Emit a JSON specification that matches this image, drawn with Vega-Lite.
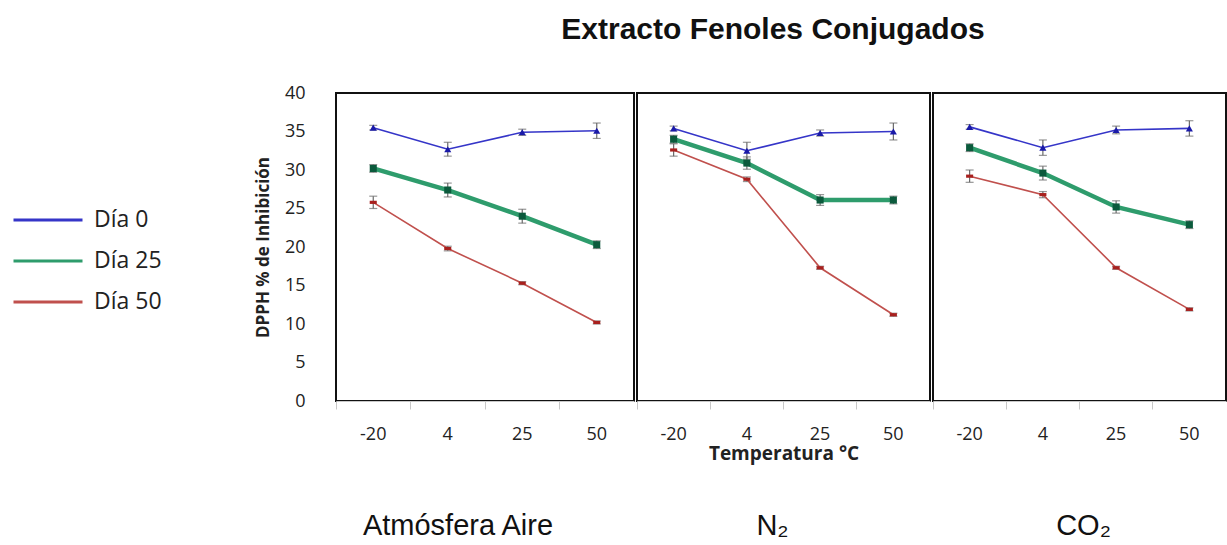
{
  "$schema": "https://vega.github.io/schema/vega-lite/v6.json",
  "autosize": {"type": "pad"},
  "padding": {"left": 35, "top": 15, "right": 0, "bottom": 0},
  "background": "white",
  "title": {"text": "Extracto Fenoles  Conjugados", "font": "Liberation Sans", "fontSize": 30, "fontWeight": "bold", "color": "#111111", "anchor": "middle", "offset": 38, "dx": 142},
  "datasets": {
    "d": [
      {"atm": "Aire", "temp": "-20", "dia": "Día 0", "v": 35.5, "lo": 35.2, "hi": 35.8},
      {"atm": "Aire", "temp": "4", "dia": "Día 0", "v": 32.7, "lo": 31.8, "hi": 33.6},
      {"atm": "Aire", "temp": "25", "dia": "Día 0", "v": 34.9, "lo": 34.5, "hi": 35.3},
      {"atm": "Aire", "temp": "50", "dia": "Día 0", "v": 35.1, "lo": 34.1, "hi": 36.1},
      {"atm": "Aire", "temp": "-20", "dia": "Día 25", "v": 30.2, "lo": 29.7, "hi": 30.7},
      {"atm": "Aire", "temp": "4", "dia": "Día 25", "v": 27.4, "lo": 26.5, "hi": 28.3},
      {"atm": "Aire", "temp": "25", "dia": "Día 25", "v": 24.0, "lo": 23.1, "hi": 24.9},
      {"atm": "Aire", "temp": "50", "dia": "Día 25", "v": 20.3, "lo": 19.8, "hi": 20.8},
      {"atm": "Aire", "temp": "-20", "dia": "Día 50", "v": 25.8, "lo": 25.0, "hi": 26.6},
      {"atm": "Aire", "temp": "4", "dia": "Día 50", "v": 19.8, "lo": 19.5, "hi": 20.1},
      {"atm": "Aire", "temp": "25", "dia": "Día 50", "v": 15.3, "lo": 15.1, "hi": 15.5},
      {"atm": "Aire", "temp": "50", "dia": "Día 50", "v": 10.2, "lo": 10.0, "hi": 10.4},
      {"atm": "N2", "temp": "-20", "dia": "Día 0", "v": 35.4, "lo": 35.1, "hi": 35.7},
      {"atm": "N2", "temp": "4", "dia": "Día 0", "v": 32.5, "lo": 31.4, "hi": 33.6},
      {"atm": "N2", "temp": "25", "dia": "Día 0", "v": 34.8, "lo": 34.4, "hi": 35.2},
      {"atm": "N2", "temp": "50", "dia": "Día 0", "v": 35.0, "lo": 33.9, "hi": 36.1},
      {"atm": "N2", "temp": "-20", "dia": "Día 25", "v": 34.0, "lo": 33.5, "hi": 34.5},
      {"atm": "N2", "temp": "4", "dia": "Día 25", "v": 30.9, "lo": 30.1, "hi": 31.7},
      {"atm": "N2", "temp": "25", "dia": "Día 25", "v": 26.1, "lo": 25.4, "hi": 26.8},
      {"atm": "N2", "temp": "50", "dia": "Día 25", "v": 26.1, "lo": 25.6, "hi": 26.6},
      {"atm": "N2", "temp": "-20", "dia": "Día 50", "v": 32.6, "lo": 31.8, "hi": 33.4},
      {"atm": "N2", "temp": "4", "dia": "Día 50", "v": 28.8, "lo": 28.5, "hi": 29.1},
      {"atm": "N2", "temp": "25", "dia": "Día 50", "v": 17.3, "lo": 17.1, "hi": 17.5},
      {"atm": "N2", "temp": "50", "dia": "Día 50", "v": 11.2, "lo": 11.0, "hi": 11.4},
      {"atm": "CO2", "temp": "-20", "dia": "Día 0", "v": 35.6, "lo": 35.3, "hi": 35.9},
      {"atm": "CO2", "temp": "4", "dia": "Día 0", "v": 32.9, "lo": 31.9, "hi": 33.9},
      {"atm": "CO2", "temp": "25", "dia": "Día 0", "v": 35.2, "lo": 34.7, "hi": 35.7},
      {"atm": "CO2", "temp": "50", "dia": "Día 0", "v": 35.4, "lo": 34.4, "hi": 36.4},
      {"atm": "CO2", "temp": "-20", "dia": "Día 25", "v": 32.9, "lo": 32.4, "hi": 33.4},
      {"atm": "CO2", "temp": "4", "dia": "Día 25", "v": 29.6, "lo": 28.7, "hi": 30.5},
      {"atm": "CO2", "temp": "25", "dia": "Día 25", "v": 25.2, "lo": 24.4, "hi": 26.0},
      {"atm": "CO2", "temp": "50", "dia": "Día 25", "v": 22.9, "lo": 22.4, "hi": 23.4},
      {"atm": "CO2", "temp": "-20", "dia": "Día 50", "v": 29.2, "lo": 28.4, "hi": 30.0},
      {"atm": "CO2", "temp": "4", "dia": "Día 50", "v": 26.8, "lo": 26.4, "hi": 27.2},
      {"atm": "CO2", "temp": "25", "dia": "Día 50", "v": 17.3, "lo": 17.1, "hi": 17.5},
      {"atm": "CO2", "temp": "50", "dia": "Día 50", "v": 11.9, "lo": 11.7, "hi": 12.1}
    ]
  },
  "data": {"name": "d"},
  "spacing": 0,
  "resolve": {"scale": {"color": "shared"}, "legend": {"color": "shared"}},
  "hconcat": [
    {
      "width": 298,
      "height": 308,
      "title": {"text": "Atmósfera Aire", "orient": "bottom", "font": "Liberation Sans", "fontSize": 29, "fontWeight": "normal", "color": "#111111", "offset": 69, "dx": -27, "anchor": "middle"},
      "transform": [{"filter": "datum.atm == 'Aire'"}],
      "encoding": {
        "x": {"field": "temp", "type": "ordinal", "sort": ["-20", "4", "25", "50"], "scale": {"type": "band", "paddingInner": 0, "paddingOuter": 0},
          "axis": {"title": null, "bandPosition": 0}}
      },
      "layer": [
        {"mark": {"type": "rule", "color": "#6a6a6a", "strokeWidth": 1.2},
         "encoding": {"y": {"field": "lo", "type": "quantitative", "scale": {"domain": [0, 40], "nice": false}, "axis": {"title": "DPPH  % de Inhibición"}}, "y2": {"field": "hi"}}},
        {"mark": {"type": "tick", "color": "#6a6a6a", "size": 8, "thickness": 1.2},
         "encoding": {"y": {"field": "lo", "type": "quantitative", "scale": {"domain": [0, 40], "nice": false}, "axis": {"title": "DPPH  % de Inhibición"}}}},
        {"mark": {"type": "tick", "color": "#6a6a6a", "size": 8, "thickness": 1.2},
         "encoding": {"y": {"field": "hi", "type": "quantitative", "scale": {"domain": [0, 40], "nice": false}, "axis": {"title": "DPPH  % de Inhibición"}}}},
        {"mark": {"type": "line", "strokeWidth": 1.6},
         "encoding": {
           "y": {"field": "v", "type": "quantitative", "scale": {"domain": [0, 40], "nice": false}, "axis": {"title": "DPPH  % de Inhibición"}},
           "color": {"field": "dia", "type": "nominal", "scale": {"domain": ["Día 0", "Día 25", "Día 50"], "range": ["#3535C8", "#2E9C6C", "#C0504D"]},
             "legend": {"orient": "none", "legendX": -301, "legendY": 114, "title": null, "symbolType": "M-3,0H3", "symbolSize": 529, "symbolStrokeWidth": 3, "symbolFillColor": "transparent", "labelFontSize": 23, "labelFont": "Open Sans", "labelOffset": 33, "rowPadding": 16, "labelColor": "#222222", "padding": 0}}
         }},
        {"transform": [{"filter": "datum.dia == 'Día 25'"}],
         "mark": {"type": "line", "strokeWidth": 4.5, "color": "#2E9C6C"},
         "encoding": {"y": {"field": "v", "type": "quantitative", "scale": {"domain": [0, 40], "nice": false}, "axis": {"title": "DPPH  % de Inhibición"}}}},
        {"transform": [{"filter": "datum.dia == 'Día 0'"}],
         "mark": {"type": "point", "filled": true, "size": 50, "opacity": 1, "shape": "triangle-up", "color": "#1A1AA8"},
         "encoding": {"y": {"field": "v", "type": "quantitative", "scale": {"domain": [0, 40], "nice": false}, "axis": {"title": "DPPH  % de Inhibición"}}}},
        {"transform": [{"filter": "datum.dia == 'Día 25'"}],
         "mark": {"type": "point", "filled": true, "size": 50, "opacity": 1, "shape": "square", "color": "#0B5A3C"},
         "encoding": {"y": {"field": "v", "type": "quantitative", "scale": {"domain": [0, 40], "nice": false}, "axis": {"title": "DPPH  % de Inhibición"}}}},
        {"transform": [{"filter": "datum.dia == 'Día 50'"}],
         "mark": {"type": "point", "filled": true, "size": 50, "opacity": 1, "shape": "M-1,-0.45L1,-0.45L1,0.45L-1,0.45Z", "color": "#A8201E"},
         "encoding": {"y": {"field": "v", "type": "quantitative", "scale": {"domain": [0, 40], "nice": false}, "axis": {"title": "DPPH  % de Inhibición"}}}}
      ]
    },
    {
      "width": 293,
      "height": 308,
      "title": {"text": "N₂", "orient": "bottom", "font": "Liberation Sans", "fontSize": 29, "fontWeight": "normal", "color": "#111111", "offset": 49, "dx": -11, "anchor": "middle"},
      "transform": [{"filter": "datum.atm == 'N2'"}],
      "encoding": {
        "x": {"field": "temp", "type": "ordinal", "sort": ["-20", "4", "25", "50"], "scale": {"type": "band", "paddingInner": 0, "paddingOuter": 0},
          "axis": {"title": "Temperatura  °C", "bandPosition": 0}}
      },
      "layer": [
        {"mark": {"type": "rule", "color": "#6a6a6a", "strokeWidth": 1.2},
         "encoding": {"y": {"field": "lo", "type": "quantitative", "scale": {"domain": [0, 40], "nice": false}, "axis": null}, "y2": {"field": "hi"}}},
        {"mark": {"type": "tick", "color": "#6a6a6a", "size": 8, "thickness": 1.2},
         "encoding": {"y": {"field": "lo", "type": "quantitative", "scale": {"domain": [0, 40], "nice": false}, "axis": null}}},
        {"mark": {"type": "tick", "color": "#6a6a6a", "size": 8, "thickness": 1.2},
         "encoding": {"y": {"field": "hi", "type": "quantitative", "scale": {"domain": [0, 40], "nice": false}, "axis": null}}},
        {"mark": {"type": "line", "strokeWidth": 1.6},
         "encoding": {
           "y": {"field": "v", "type": "quantitative", "scale": {"domain": [0, 40], "nice": false}, "axis": null},
           "color": {"field": "dia", "type": "nominal", "scale": {"domain": ["Día 0", "Día 25", "Día 50"], "range": ["#3535C8", "#2E9C6C", "#C0504D"]},
             "legend": {"orient": "none", "legendX": -301, "legendY": 114, "title": null, "symbolType": "M-3,0H3", "symbolSize": 529, "symbolStrokeWidth": 3, "symbolFillColor": "transparent", "labelFontSize": 23, "labelFont": "Open Sans", "labelOffset": 33, "rowPadding": 16, "labelColor": "#222222", "padding": 0}}
         }},
        {"transform": [{"filter": "datum.dia == 'Día 25'"}],
         "mark": {"type": "line", "strokeWidth": 4.5, "color": "#2E9C6C"},
         "encoding": {"y": {"field": "v", "type": "quantitative", "scale": {"domain": [0, 40], "nice": false}, "axis": null}}},
        {"transform": [{"filter": "datum.dia == 'Día 0'"}],
         "mark": {"type": "point", "filled": true, "size": 50, "opacity": 1, "shape": "triangle-up", "color": "#1A1AA8"},
         "encoding": {"y": {"field": "v", "type": "quantitative", "scale": {"domain": [0, 40], "nice": false}, "axis": null}}},
        {"transform": [{"filter": "datum.dia == 'Día 25'"}],
         "mark": {"type": "point", "filled": true, "size": 50, "opacity": 1, "shape": "square", "color": "#0B5A3C"},
         "encoding": {"y": {"field": "v", "type": "quantitative", "scale": {"domain": [0, 40], "nice": false}, "axis": null}}},
        {"transform": [{"filter": "datum.dia == 'Día 50'"}],
         "mark": {"type": "point", "filled": true, "size": 50, "opacity": 1, "shape": "M-1,-0.45L1,-0.45L1,0.45L-1,0.45Z", "color": "#A8201E"},
         "encoding": {"y": {"field": "v", "type": "quantitative", "scale": {"domain": [0, 40], "nice": false}, "axis": null}}}
      ]
    },
    {
      "width": 293,
      "height": 308,
      "title": {"text": "CO₂", "orient": "bottom", "font": "Liberation Sans", "fontSize": 29, "fontWeight": "normal", "color": "#111111", "offset": 69, "dx": 4, "anchor": "middle"},
      "transform": [{"filter": "datum.atm == 'CO2'"}],
      "encoding": {
        "x": {"field": "temp", "type": "ordinal", "sort": ["-20", "4", "25", "50"], "scale": {"type": "band", "paddingInner": 0, "paddingOuter": 0},
          "axis": {"title": null, "bandPosition": 0}}
      },
      "layer": [
        {"mark": {"type": "rule", "color": "#6a6a6a", "strokeWidth": 1.2},
         "encoding": {"y": {"field": "lo", "type": "quantitative", "scale": {"domain": [0, 40], "nice": false}, "axis": null}, "y2": {"field": "hi"}}},
        {"mark": {"type": "tick", "color": "#6a6a6a", "size": 8, "thickness": 1.2},
         "encoding": {"y": {"field": "lo", "type": "quantitative", "scale": {"domain": [0, 40], "nice": false}, "axis": null}}},
        {"mark": {"type": "tick", "color": "#6a6a6a", "size": 8, "thickness": 1.2},
         "encoding": {"y": {"field": "hi", "type": "quantitative", "scale": {"domain": [0, 40], "nice": false}, "axis": null}}},
        {"mark": {"type": "line", "strokeWidth": 1.6},
         "encoding": {
           "y": {"field": "v", "type": "quantitative", "scale": {"domain": [0, 40], "nice": false}, "axis": null},
           "color": {"field": "dia", "type": "nominal", "scale": {"domain": ["Día 0", "Día 25", "Día 50"], "range": ["#3535C8", "#2E9C6C", "#C0504D"]},
             "legend": {"orient": "none", "legendX": -301, "legendY": 114, "title": null, "symbolType": "M-3,0H3", "symbolSize": 529, "symbolStrokeWidth": 3, "symbolFillColor": "transparent", "labelFontSize": 23, "labelFont": "Open Sans", "labelOffset": 33, "rowPadding": 16, "labelColor": "#222222", "padding": 0}}
         }},
        {"transform": [{"filter": "datum.dia == 'Día 25'"}],
         "mark": {"type": "line", "strokeWidth": 4.5, "color": "#2E9C6C"},
         "encoding": {"y": {"field": "v", "type": "quantitative", "scale": {"domain": [0, 40], "nice": false}, "axis": null}}},
        {"transform": [{"filter": "datum.dia == 'Día 0'"}],
         "mark": {"type": "point", "filled": true, "size": 50, "opacity": 1, "shape": "triangle-up", "color": "#1A1AA8"},
         "encoding": {"y": {"field": "v", "type": "quantitative", "scale": {"domain": [0, 40], "nice": false}, "axis": null}}},
        {"transform": [{"filter": "datum.dia == 'Día 25'"}],
         "mark": {"type": "point", "filled": true, "size": 50, "opacity": 1, "shape": "square", "color": "#0B5A3C"},
         "encoding": {"y": {"field": "v", "type": "quantitative", "scale": {"domain": [0, 40], "nice": false}, "axis": null}}},
        {"transform": [{"filter": "datum.dia == 'Día 50'"}],
         "mark": {"type": "point", "filled": true, "size": 50, "opacity": 1, "shape": "M-1,-0.45L1,-0.45L1,0.45L-1,0.45Z", "color": "#A8201E"},
         "encoding": {"y": {"field": "v", "type": "quantitative", "scale": {"domain": [0, 40], "nice": false}, "axis": null}}}
      ]
    }
  ],
  "config": {
    "font": "Open Sans",
    "view": {"stroke": "#111111", "strokeWidth": 2},
    "axisY": {"grid": false, "ticks": false, "domain": false, "labelFontSize": 18, "labelPadding": 31, "labelColor": "#222222", "titleFontSize": 17, "titleFontWeight": "bold", "titlePadding": 12, "titleColor": "#222222", "values": [0, 5, 10, 15, 20, 25, 30, 35, 40]},
    "axisX": {"grid": false, "labelAngle": 0, "tickColor": "#c8c8c8", "tickSize": 8, "domainColor": "#c8c8c8", "labelFontSize": 18, "labelPadding": 16, "labelColor": "#222222", "titleFontSize": 19, "titleFontWeight": "bold", "titlePadding": 1, "titleColor": "#222222"}
  }
}
